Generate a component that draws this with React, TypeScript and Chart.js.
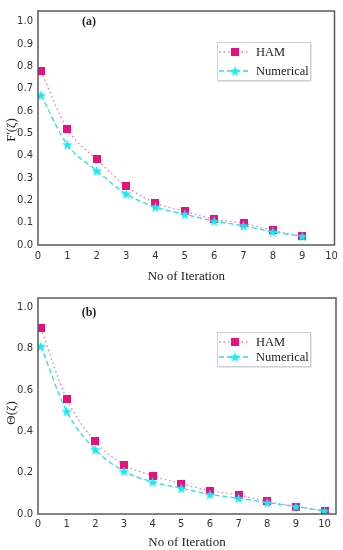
import React, { useEffect, useRef } from "react";
import { Chart, registerables } from "chart.js";

Chart.register(...registerables);

// ---- Data ----
const xA = [0.1, 1, 2, 3, 4, 5, 6, 7, 8, 9];
const hamA = [0.778, 0.52, 0.383, 0.264, 0.188, 0.151, 0.116, 0.097, 0.065, 0.039];
const numA = [0.671, 0.449, 0.333, 0.229, 0.17, 0.138, 0.107, 0.086, 0.059, 0.039];

const xB = [0.1, 1, 2, 3, 4, 5, 6, 7, 8, 9, 10];
const hamB = [0.898, 0.557, 0.351, 0.239, 0.186, 0.146, 0.113, 0.092, 0.061, 0.036, 0.016];
const numB = [0.812, 0.497, 0.312, 0.207, 0.155, 0.125, 0.095, 0.076, 0.055, 0.036, 0.015];

const seriesNames = ["HAM", "Numerical"];
const xTitle = "No of Iteration";

const PINK = "#ea0f7f";
const PINK_LINE = "#ff6fb8";
const CYAN = "#12ecf4";
const CYAN_LINE = "#25e0ee";

function makeStar(size: number, color: string) {
  const c = document.createElement("canvas");
  c.width = size;
  c.height = size;
  const ctx = c.getContext("2d")!;
  const cx = size / 2, cy = size / 2 + 0.5;
  const R = size / 2, r = R * 0.42;
  ctx.beginPath();
  for (let i = 0; i < 10; i++) {
    const ang = -Math.PI / 2 + (i * Math.PI) / 5;
    const rad = i % 2 === 0 ? R : r;
    const px = cx + rad * Math.cos(ang);
    const py = cy + rad * Math.sin(ang);
    if (i === 0) ctx.moveTo(px, py);
    else ctx.lineTo(px, py);
  }
  ctx.closePath();
  ctx.fillStyle = color;
  ctx.fill();
  return c;
}

function makeSquare(size: number, color: string) {
  const c = document.createElement("canvas");
  c.width = size;
  c.height = size;
  const ctx = c.getContext("2d")!;
  ctx.fillStyle = color;
  ctx.fillRect(0, 0, size, size);
  return c;
}

type Cfg = {
  xs: number[];
  ham: number[];
  num: number[];
  label: string;
  yTitle: string;
  yStep: number;
  yMax: number;
  xMax: number;
  padTop: number;
  padRight: number;
  xAxisH: number;
  tickPad: number;
  titlePadBottom: number;
  legendBox: [number, number, number, number];
  legendRows: [number, number];
  labelPos: [number, number];
  yTitleY: number;
};

function drawMarker(ctx: CanvasRenderingContext2D, img: HTMLCanvasElement, x: number, y: number) {
  ctx.drawImage(img, x - img.width / 2, y - img.height / 2);
}

function ChartPanel({ cfg, top, height }: { cfg: Cfg; top: number; height: number }) {
  const ref = useRef<HTMLCanvasElement>(null);
  useEffect(() => {
    const sq = makeSquare(8, PINK);
    const st = makeStar(11, CYAN);
    const framePlugin = {
      id: "frame" + cfg.label,
      afterDraw(chart: any) {
        const { ctx, chartArea: a } = chart;
        ctx.save();
        ctx.strokeStyle = "#5a5a5a";
        ctx.lineWidth = 1.5;
        ctx.strokeRect(a.left, a.top, a.right - a.left, a.bottom - a.top);
        // y axis title
        ctx.save();
        ctx.translate(12, cfg.yTitleY);
        ctx.rotate(-Math.PI / 2);
        ctx.fillStyle = "#222";
        ctx.font = "13px 'Liberation Serif', serif";
        ctx.textAlign = "center";
        ctx.textBaseline = "middle";
        ctx.fillText(cfg.yTitle, 0, 0);
        ctx.restore();
        // panel label
        ctx.fillStyle = "#222";
        ctx.font = "bold 12px 'Liberation Serif', serif";
        ctx.textAlign = "center";
        ctx.textBaseline = "middle";
        ctx.fillText(cfg.label, cfg.labelPos[0], cfg.labelPos[1]);
        // legend
        const [bx, by, bw, bh] = cfg.legendBox;
        ctx.fillStyle = "#ffffff";
        ctx.fillRect(bx, by, bw, bh);
        ctx.strokeStyle = "#cfcfcf";
        ctx.lineWidth = 1;
        ctx.strokeRect(bx + 0.5, by + 0.5, bw, bh);
        ctx.strokeStyle = "#e6e6e6";
        ctx.beginPath();
        ctx.moveTo(bx + 1.5, by + bh + 1.5);
        ctx.lineTo(bx + bw + 1.5, by + bh + 1.5);
        ctx.lineTo(bx + bw + 1.5, by + 1.5);
        ctx.stroke();
        const rows = cfg.legendRows;
        const lx0 = bx + 2, lx1 = bx + 33, mx = bx + 18;
        ctx.strokeStyle = PINK_LINE;
        ctx.lineWidth = 1.3;
        ctx.setLineDash([1.5, 3]);
        ctx.beginPath();
        ctx.moveTo(lx0, rows[0]);
        ctx.lineTo(lx1, rows[0]);
        ctx.stroke();
        ctx.strokeStyle = CYAN_LINE;
        ctx.setLineDash([5, 3]);
        ctx.beginPath();
        ctx.moveTo(lx0, rows[1]);
        ctx.lineTo(lx1, rows[1]);
        ctx.stroke();
        ctx.setLineDash([]);
        drawMarker(ctx, sq, mx, rows[0]);
        drawMarker(ctx, st, mx, rows[1]);
        ctx.fillStyle = "#222";
        ctx.font = "12.5px 'Liberation Serif', serif";
        ctx.textAlign = "left";
        ctx.fillText(seriesNames[0], bx + 39, rows[0] + 0.5);
        ctx.fillText(seriesNames[1], bx + 39, rows[1] + 0.5);
        ctx.restore();
      },
    };
    const chart = new Chart(ref.current!, {
      type: "line",
      data: {
        datasets: [
          {
            label: seriesNames[0],
            data: cfg.xs.map((x, i) => ({ x, y: cfg.ham[i] })),
            borderColor: PINK_LINE,
            borderWidth: 1.3,
            borderDash: [1.5, 3],
            pointStyle: sq as any,
            pointRadius: 4,
            cubicInterpolationMode: "monotone",
            order: 2,
          },
          {
            label: seriesNames[1],
            data: cfg.xs.map((x, i) => ({ x, y: cfg.num[i] })),
            borderColor: CYAN_LINE,
            borderWidth: 1.3,
            borderDash: [5, 3],
            pointStyle: st as any,
            pointRadius: 5,
            cubicInterpolationMode: "monotone",
            order: 1,
          },
        ],
      },
      options: {
        animation: false,
        responsive: false,
        maintainAspectRatio: false,
        layout: { padding: { top: cfg.padTop, right: cfg.padRight, left: 0, bottom: 0 } },
        plugins: { legend: { display: false }, tooltip: { enabled: false } },
        scales: {
          x: {
            type: "linear",
            min: 0,
            max: cfg.xMax,
            grid: { display: false, drawTicks: false },
            border: { display: false },
            afterBuildTicks: (s: any) => {
              s.ticks = [];
              for (let v = 0; v <= 10; v++) s.ticks.push({ value: v });
            },
            afterFit: (s: any) => {
              s.height = cfg.xAxisH;
            },
            ticks: {
              padding: cfg.tickPad,
              maxRotation: 0,
              autoSkip: false,
              color: "#333",
              font: { family: "'DejaVu Sans', sans-serif", size: 10 },
              callback: (v: any) => String(v),
            },
            title: {
              display: true,
              text: xTitle,
              color: "#222",
              font: { family: "'Liberation Serif', serif", size: 13 },
              padding: { top: 0, bottom: cfg.titlePadBottom },
            },
          },
          y: {
            type: "linear",
            min: 0,
            max: cfg.yMax,
            grid: { display: false, drawTicks: false },
            border: { display: false },
            afterBuildTicks: (s: any) => {
              s.ticks = [];
              const n = Math.round(1 / cfg.yStep);
              for (let i = 0; i <= n; i++) s.ticks.push({ value: +(i * cfg.yStep).toFixed(2) });
            },
            afterFit: (s: any) => {
              s.width = 38;
            },
            ticks: {
              padding: 5,
              color: "#333",
              font: { family: "'DejaVu Sans', sans-serif", size: 10 },
              callback: (v: any) => Number(v).toFixed(1),
            },
          },
        },
      },
      plugins: [framePlugin],
    });
    return () => chart.destroy();
  }, []);
  return (
    <canvas
      ref={ref}
      width={343}
      height={height}
      style={{ position: "absolute", left: 0, top, width: 343, height }}
    />
  );
}

const cfgA: Cfg = {
  xs: xA,
  ham: hamA,
  num: numA,
  label: "(a)",
  yTitle: "F'(\u03b6)",
  yStep: 0.1,
  yMax: 1.048,
  xMax: 10.1,
  padTop: 4,
  padRight: 5,
  xAxisH: 45,
  tickPad: 5,
  titlePadBottom: 6,
  legendBox: [217, 42, 93, 38],
  legendRows: [52, 71],
  labelPos: [89, 22],
  yTitleY: 130,
};

const cfgB: Cfg = {
  xs: xB,
  ham: hamB,
  num: numB,
  label: "(b)",
  yTitle: "\u0398(\u03b6)",
  yStep: 0.2,
  yMax: 1.045,
  xMax: 10.4,
  padTop: 13,
  padRight: 7,
  xAxisH: 36,
  tickPad: 4,
  titlePadBottom: 0,
  legendBox: [217, 47, 93, 34],
  legendRows: [57, 72],
  labelPos: [89, 28],
  yTitleY: 128,
};

export default function App() {
  return (
    <div style={{ position: "fixed", left: 0, top: 0, width: 343, height: 550, background: "#fff" }}>
      <ChartPanel cfg={cfgA} top={0} height={290} />
      <ChartPanel cfg={cfgB} top={285} height={265} />
    </div>
  );
}
